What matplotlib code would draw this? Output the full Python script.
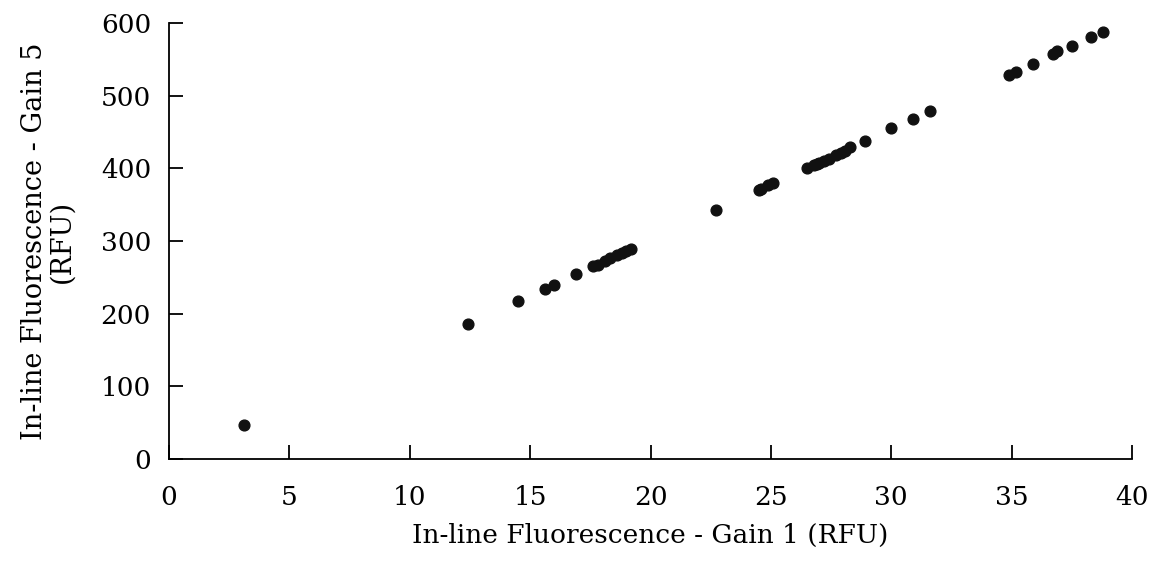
import numpy as np
import matplotlib.pyplot as plt

plt.rcParams['font.family'] = ['DejaVu Serif']

# gain 1 vs gain 5 readings (RFU)
gain1 = [3.1, 12.4, 14.5, 15.6, 16.0, 16.9, 17.6, 17.8, 18.1, 18.3, 18.6, 18.8,
         19.0, 19.2, 22.7, 24.5, 24.6, 24.9, 25.1, 26.5, 26.8, 26.9, 27.0, 27.2,
         27.4, 27.7, 27.9, 28.1, 28.3, 28.9, 30.0, 30.9, 31.6, 34.9, 35.2, 35.9,
         36.7, 36.9, 37.5, 38.3, 38.8]
gain5 = [47, 186, 218, 234, 240, 254, 265, 267, 273, 276, 281, 283,
         286, 289, 343, 370, 371, 377, 380, 401, 404, 406, 408, 410,
         413, 418, 421, 424, 429, 438, 455, 468, 479, 529, 533, 544,
         557, 561, 569, 581, 588]

fig = plt.figure(figsize=(11.58, 5.63), dpi=100)
ax = fig.add_axes([0.146, 0.1847, 0.8315, 0.7743])
ax.scatter(gain1, gain5, s=60, color='#111111', zorder=3)

ax.set_xlim(0, 40)
ax.set_ylim(0, 600)
ax.set_xticks(np.arange(0, 41, 5))
ax.set_yticks(np.arange(0, 601, 100))
for s in ['top', 'right']:
    ax.spines[s].set_visible(False)
for s in ['left', 'bottom']:
    ax.spines[s].set_linewidth(1.3)
ax.tick_params(direction='in', length=10, width=1.3, labelsize=19)
ax.tick_params(axis='x', pad=19)
ax.tick_params(axis='y', pad=13)
ax.set_xlabel('In-line Fluorescence - Gain 1 (RFU)', fontsize=19, labelpad=9)
ax.set_ylabel('In-line Fluorescence - Gain 5\n(RFU)', fontsize=19.5, labelpad=18,
              linespacing=1.05)

fig.savefig('out.png', dpi=100)
